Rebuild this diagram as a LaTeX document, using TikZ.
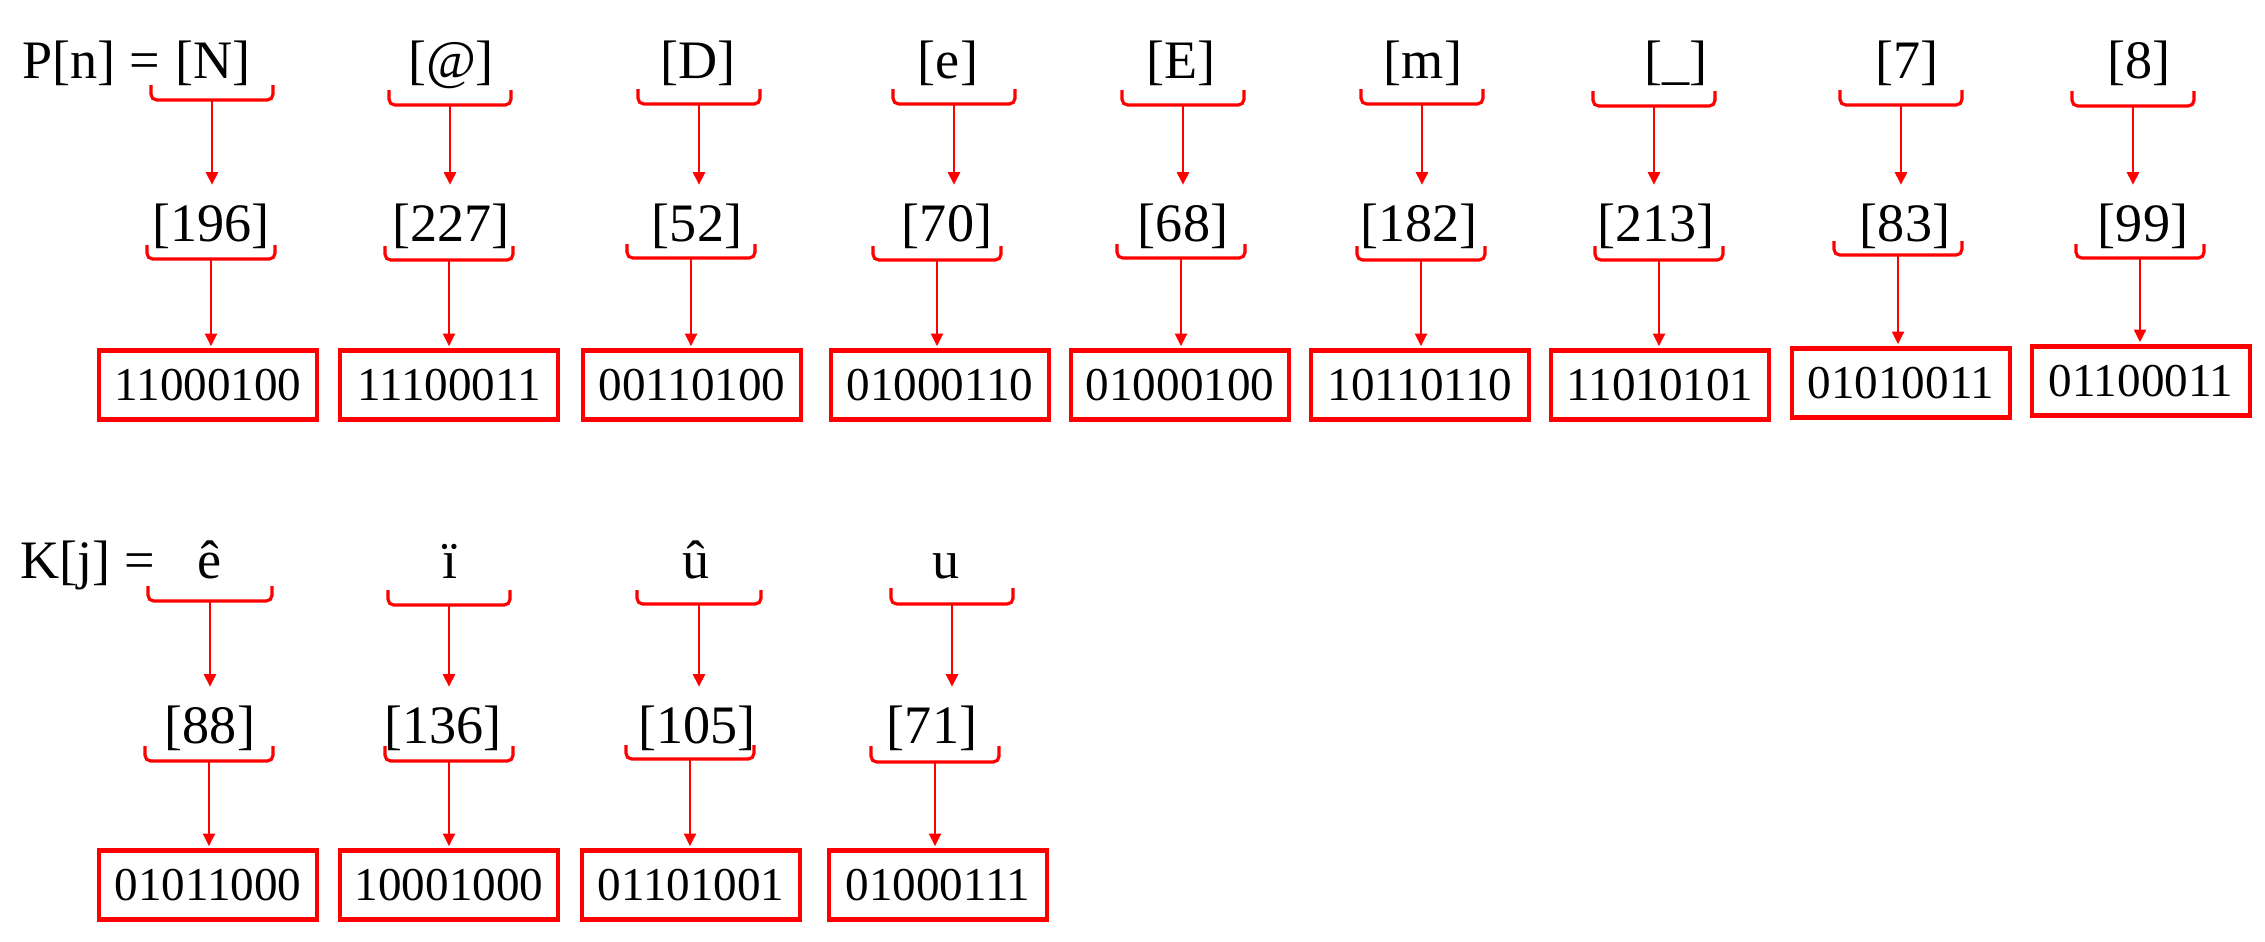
\documentclass[tikz,border=0pt]{standalone}
\usepackage{fontspec}
\setmainfont{Liberation Serif}
\usetikzlibrary{arrows.meta}

\begin{document}
\begin{tikzpicture}[x=0.01cm,y=-0.01cm,
    lab/.style={font=\fontsize{15.4}{18}\selectfont, anchor=base, inner xsep=0pt, inner ysep=4.6pt},
    bits/.style={draw=red, line width=1.3pt, minimum width=2.175cm, minimum height=0.695cm,
      inner sep=0pt, font=\fontsize{13.4}{16}\selectfont},
    brc/.style={red, line width=0.9pt, rounded corners=1.6pt},
    arr/.style={red, line width=0.75pt, -{Triangle[length=3.6pt,width=3.4pt]}, shorten >=0.5pt}]

      \useasboundingbox (0,0) rectangle (2265,942);

      % The first row: P[n].
      \node[lab, anchor=base west, inner sep=0pt] (pn) at (22,78) {P[n] =};

      % The N column.
      \node[lab] (t1) at (213,78) {[N]};
      \node[lab] (v1) at (211,241) {[196]};
      \node[bits] (b1) at (208,385) {11000100};
      \coordinate (tb1) at (212,100);
      \coordinate (vb1) at (211,259);
      \draw[brc] (tb1) ++(-61,-15) -- ++(0,15) -- ++(122,0) -- ++(0,-15);
      \draw[brc] (vb1) ++(-64,-14) -- ++(0,14) -- ++(128,0) -- ++(0,-14);
      \draw[arr] (tb1) -- (tb1 |- v1.north);
      \draw[arr] (vb1) -- (vb1 |- b1.north);

      % The @ column.
      \node[lab] (t2) at (451,78) {[@]};
      \node[lab] (v2) at (451,241) {[227]};
      \node[bits] (b2) at (449,385) {11100011};
      \coordinate (tb2) at (450,105);
      \coordinate (vb2) at (449,260);
      \draw[brc] (tb2) ++(-61,-15) -- ++(0,15) -- ++(122,0) -- ++(0,-15);
      \draw[brc] (vb2) ++(-64,-14) -- ++(0,14) -- ++(128,0) -- ++(0,-14);
      \draw[arr] (tb2) -- (tb2 |- v2.north);
      \draw[arr] (vb2) -- (vb2 |- b2.north);

      % The D column.
      \node[lab] (t3) at (698,78) {[D]};
      \node[lab] (v3) at (697,241) {[52]};
      \node[bits] (b3) at (692,385) {00110100};
      \coordinate (tb3) at (699,104);
      \coordinate (vb3) at (691,258);
      \draw[brc] (tb3) ++(-61,-15) -- ++(0,15) -- ++(122,0) -- ++(0,-15);
      \draw[brc] (vb3) ++(-64,-14) -- ++(0,14) -- ++(128,0) -- ++(0,-14);
      \draw[arr] (tb3) -- (tb3 |- v3.north);
      \draw[arr] (vb3) -- (vb3 |- b3.north);

      % The e column.
      \node[lab] (t4) at (948,78) {[e]};
      \node[lab] (v4) at (947,241) {[70]};
      \node[bits] (b4) at (940,385) {01000110};
      \coordinate (tb4) at (954,104);
      \coordinate (vb4) at (937,260);
      \draw[brc] (tb4) ++(-61,-15) -- ++(0,15) -- ++(122,0) -- ++(0,-15);
      \draw[brc] (vb4) ++(-64,-14) -- ++(0,14) -- ++(128,0) -- ++(0,-14);
      \draw[arr] (tb4) -- (tb4 |- v4.north);
      \draw[arr] (vb4) -- (vb4 |- b4.north);

      % The E column.
      \node[lab] (t5) at (1181,78) {[E]};
      \node[lab] (v5) at (1183,241) {[68]};
      \node[bits] (b5) at (1180,385) {01000100};
      \coordinate (tb5) at (1183,105);
      \coordinate (vb5) at (1181,258);
      \draw[brc] (tb5) ++(-61,-15) -- ++(0,15) -- ++(122,0) -- ++(0,-15);
      \draw[brc] (vb5) ++(-64,-14) -- ++(0,14) -- ++(128,0) -- ++(0,-14);
      \draw[arr] (tb5) -- (tb5 |- v5.north);
      \draw[arr] (vb5) -- (vb5 |- b5.north);

      % The m column.
      \node[lab] (t6) at (1423,78) {[m]};
      \node[lab] (v6) at (1419,241) {[182]};
      \node[bits] (b6) at (1420,385) {10110110};
      \coordinate (tb6) at (1422,104);
      \coordinate (vb6) at (1421,260);
      \draw[brc] (tb6) ++(-61,-15) -- ++(0,15) -- ++(122,0) -- ++(0,-15);
      \draw[brc] (vb6) ++(-64,-14) -- ++(0,14) -- ++(128,0) -- ++(0,-14);
      \draw[arr] (tb6) -- (tb6 |- v6.north);
      \draw[arr] (vb6) -- (vb6 |- b6.north);

      % The underscore column.
      \node[lab] (t7) at (1676,78) {[\_]};
      \node[lab] (v7) at (1656,241) {[213]};
      \node[bits] (b7) at (1660,385) {11010101};
      \coordinate (tb7) at (1654,106);
      \coordinate (vb7) at (1659,260);
      \draw[brc] (tb7) ++(-61,-15) -- ++(0,15) -- ++(122,0) -- ++(0,-15);
      \draw[brc] (vb7) ++(-64,-14) -- ++(0,14) -- ++(128,0) -- ++(0,-14);
      \draw[arr] (tb7) -- (tb7 |- v7.north);
      \draw[arr] (vb7) -- (vb7 |- b7.north);

      % The 7 column.
      \node[lab] (t8) at (1907,78) {[7]};
      \node[lab] (v8) at (1905,241) {[83]};
      \node[bits] (b8) at (1901,383) {01010011};
      \coordinate (tb8) at (1901,105);
      \coordinate (vb8) at (1898,255);
      \draw[brc] (tb8) ++(-61,-15) -- ++(0,15) -- ++(122,0) -- ++(0,-15);
      \draw[brc] (vb8) ++(-64,-14) -- ++(0,14) -- ++(128,0) -- ++(0,-14);
      \draw[arr] (tb8) -- (tb8 |- v8.north);
      \draw[arr] (vb8) -- (vb8 |- b8.north);

      % The 8 column.
      \node[lab] (t9) at (2139,78) {[8]};
      \node[lab] (v9) at (2143,241) {[99]};
      \node[bits] (b9) at (2141,381) {01100011};
      \coordinate (tb9) at (2133,106);
      \coordinate (vb9) at (2140,258);
      \draw[brc] (tb9) ++(-61,-15) -- ++(0,15) -- ++(122,0) -- ++(0,-15);
      \draw[brc] (vb9) ++(-64,-14) -- ++(0,14) -- ++(128,0) -- ++(0,-14);
      \draw[arr] (tb9) -- (tb9 |- v9.north);
      \draw[arr] (vb9) -- (vb9 |- b9.north);

      % The second row: K[j].
      \node[lab, anchor=base west, inner sep=0pt] (kj) at (20,578) {K[j] =};

      % The e-circumflex column.
      \node[lab] (kt1) at (210,578) {ê};
      \node[lab] (kv1) at (210,743) {[88]};
      \node[bits] (kb1) at (208,885) {01011000};
      \coordinate (ktb1) at (210,601);
      \coordinate (kvb1) at (209,761);
      \draw[brc] (ktb1) ++(-62,-15) -- ++(0,15) -- ++(124,0) -- ++(0,-15);
      \draw[brc] (kvb1) ++(-64,-15) -- ++(0,15) -- ++(128,0) -- ++(0,-15);
      \draw[arr] (ktb1) -- (ktb1 |- kv1.north);
      \draw[arr] (kvb1) -- (kvb1 |- kb1.north);

      % The i-diaeresis column.
      \node[lab] (kt2) at (450,578) {ï};
      \node[lab] (kv2) at (443,743) {[136]};
      \node[bits] (kb2) at (449,885) {10001000};
      \coordinate (ktb2) at (449,605);
      \coordinate (kvb2) at (449,761);
      \draw[brc] (ktb2) ++(-61,-15) -- ++(0,15) -- ++(122,0) -- ++(0,-15);
      \draw[brc] (kvb2) ++(-64,-15) -- ++(0,15) -- ++(128,0) -- ++(0,-15);
      \draw[arr] (ktb2) -- (ktb2 |- kv2.north);
      \draw[arr] (kvb2) -- (kvb2 |- kb2.north);

      % The u-circumflex column.
      \node[lab] (kt3) at (696,578) {û};
      \node[lab] (kv3) at (697,743) {[105]};
      \node[bits] (kb3) at (691,885) {01101001};
      \coordinate (ktb3) at (699,604);
      \coordinate (kvb3) at (690,759);
      \draw[brc] (ktb3) ++(-62,-14) -- ++(0,14) -- ++(124,0) -- ++(0,-14);
      \draw[brc] (kvb3) ++(-64,-14) -- ++(0,14) -- ++(128,0) -- ++(0,-14);
      \draw[arr] (ktb3) -- (ktb3 |- kv3.north);
      \draw[arr] (kvb3) -- (kvb3 |- kb3.north);

      % The u column.
      \node[lab] (kt4) at (946,578) {u};
      \node[lab] (kv4) at (932,743) {[71]};
      \node[bits] (kb4) at (938,885) {01000111};
      \coordinate (ktb4) at (952,604);
      \coordinate (kvb4) at (935,762);
      \draw[brc] (ktb4) ++(-61,-16) -- ++(0,16) -- ++(122,0) -- ++(0,-16);
      \draw[brc] (kvb4) ++(-64,-16) -- ++(0,16) -- ++(128,0) -- ++(0,-16);
      \draw[arr] (ktb4) -- (ktb4 |- kv4.north);
      \draw[arr] (kvb4) -- (kvb4 |- kb4.north);

    \end{tikzpicture}
\end{document}
